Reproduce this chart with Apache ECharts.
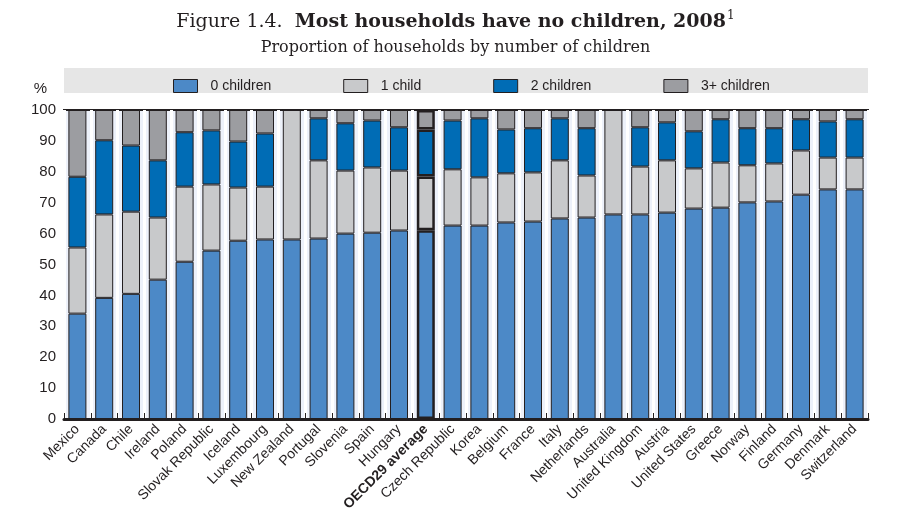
<!DOCTYPE html>
<html>
<head>
<meta charset="utf-8">
<script src="https://cdn.jsdelivr.net/npm/echarts@6/dist/echarts.min.js"></script>
<style>html,body{margin:0;padding:0;background:#fff}#c{width:911px;height:523px}</style>
</head>
<body>
<div id="c"></div>
<script>
const categories = ["Mexico","Canada","Chile","Ireland","Poland","Slovak Republic","Iceland","Luxembourg","New Zealand","Portugal","Slovenia","Spain","Hungary","OECD29 average","Czech Republic","Korea","Belgium","France","Italy","Netherlands","Australia","United Kingdom","Austria","United States","Greece","Norway","Finland","Germany","Denmark","Switzerland"];
// cumulative tops
const top0 = [34.1,39.2,40.5,45.1,50.9,54.5,57.7,58.1,58.1,58.4,60.0,60.3,61.0,61.1,62.6,62.6,63.6,63.9,64.9,65.2,66.2,66.2,66.8,68.1,68.4,70.1,70.4,72.6,74.3,74.3];
const top1 = [55.5,66.2,67.1,65.2,75.2,75.9,74.9,75.2,100,83.7,80.4,81.4,80.4,78.5,80.8,78.2,79.5,79.8,83.7,78.8,100,81.7,83.7,81.1,83.0,82.1,82.7,86.9,84.6,84.6];
const top2 = [78.4,90.2,88.5,83.7,92.8,93.4,89.8,92.4,100,97.3,95.7,96.6,94.4,93.7,96.6,97.3,93.7,94.1,97.3,94.1,100,94.4,96.0,93.1,97.0,94.1,94.1,97.0,96.3,97.0];
const r1 = (v)=>Math.round(v*10)/10;
const children0 = top0.slice();
const child1 = top1.map((v,i)=>r1(v-top0[i]));
const children2 = top2.map((v,i)=>r1(v-top1[i]));
const children3 = top2.map((v)=>r1(100-v));
const yTicks = [0,10,20,30,40,50,60,70,80,90,100];
const seriesNames = ["0 children","1 child","2 children","3+ children"];
const colors = ["#4c89c7","#c8c9cb","#006cb5","#9c9da1"];
const oecdIdx = categories.indexOf("OECD29 average");

const fontSans = "'Liberation Sans Narrow','Arial Narrow','Liberation Sans',Arial,sans-serif";
const fontSerif = "'DejaVu Serif',serif";

function mk(name, data, color){
  return {
    name, type:'bar', stack:'s', barWidth:18,
    data: data.map((v,i)=>({value:v, itemStyle: i===oecdIdx?{color, borderColor:'#231f20', borderWidth:2.5}:{color, borderColor:'#231f20', borderWidth:1} })),
    itemStyle:{color, borderColor:'#231f20', borderWidth:1},
    emphasis:{disabled:true}
  };
}

const chart = echarts.init(document.getElementById('c'), null, {renderer:'canvas'});
chart.setOption({
  animation:false,
  title:[{
    text:'{n|Figure 1.4.  }{b|Most households have no children, 2008}{s|1}',
    left:'center', top:5,
    textStyle:{rich:{
      n:{fontFamily:fontSerif,fontSize:19,fontWeight:'normal',color:'#231f20'},
      b:{fontFamily:fontSerif,fontSize:19,fontWeight:'bold',color:'#231f20'},
      s:{fontFamily:fontSerif,fontSize:12,fontWeight:'normal',color:'#231f20',verticalAlign:'top',padding:[0,0,12,1]}
    }}
  },{
    text:'Proportion of households by number of children',
    left:'center', top:35,
    textStyle:{fontFamily:fontSerif,fontSize:16,fontWeight:'normal',color:'#231f20'}
  }],
  graphic:[{type:'rect', shape:{x:64,y:68,width:804,height:25}, style:{fill:'#e6e6e6'}, z:-10}],
  legend:{
    data:seriesNames, top:74, left:168, itemWidth:24, itemHeight:13, itemGap:72,
    icon:'rect',
    textStyle:{fontFamily:fontSans,fontSize:14,color:'#231f20',padding:[0,0,0,8]},
    itemStyle:{borderColor:'#231f20',borderWidth:1},
    selectedMode:false
  },
  grid:{left:64,right:43,top:110,bottom:104,show:true,backgroundColor:'#edf1fa',borderColor:'#231f20',borderWidth:2},
  xAxis:{
    type:'category', data:categories,
    axisLine:{show:true,lineStyle:{color:'#231f20',width:3}},
    axisTick:{show:true,inside:true,length:6,lineStyle:{color:'#231f20',width:1}},
    splitLine:{show:true,lineStyle:{color:'#ffffff',width:3}},
    axisLabel:{
      interval:0, rotate:45, margin:8, fontFamily:fontSans, fontSize:14, color:'#231f20',
      formatter:(v)=> v==='OECD29 average' ? '{b|'+v+'}' : v,
      rich:{b:{fontFamily:fontSans,fontSize:14,fontWeight:'bold',color:'#231f20'}}
    }
  },
  yAxis:{
    type:'value', min:0, max:100, interval:10,
    name:'%', nameLocation:'end', nameGap:14,
    nameTextStyle:{fontFamily:fontSans,fontSize:15,color:'#231f20',align:'right',padding:[0,17,0,0]},
    axisLine:{show:false}, axisTick:{show:false}, splitLine:{show:false},
    axisLabel:{fontFamily:fontSans,fontSize:15,color:'#231f20',margin:8,
      formatter:(v)=> yTicks.includes(v)? String(v):''}
  },
  series:[
    mk(seriesNames[0],children0,colors[0]),
    mk(seriesNames[1],child1,colors[1]),
    mk(seriesNames[2],children2,colors[2]),
    mk(seriesNames[3],children3,colors[3])
  ]
});
</script>
</body>
</html>
